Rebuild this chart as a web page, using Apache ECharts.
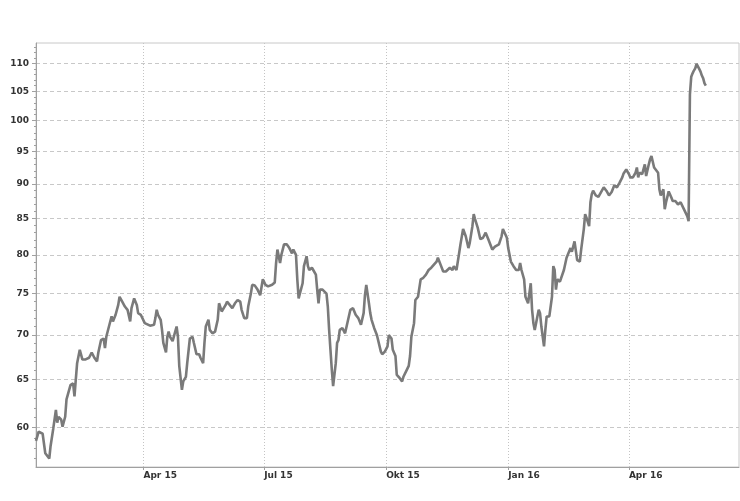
<!DOCTYPE html>
<html>
<head>
<meta charset="utf-8">
<script src="https://cdn.jsdelivr.net/npm/echarts@6/dist/echarts.min.js"></script>
<style>
  html, body { margin: 0; padding: 0; background: #ffffff; }
  #c { width: 740px; height: 501px; }
</style>
</head>
<body>
<div id="c"></div>
<script>
// ---- data ----
const dates = [
'2015-01-10','2015-01-12','2015-01-13','2015-01-15','2015-01-17','2015-01-20','2015-01-21','2015-01-23','2015-01-25','2015-01-26',
'2015-01-27','2015-01-29','2015-01-30','2015-02-01','2015-02-02','2015-02-05','2015-02-07','2015-02-08','2015-02-09','2015-02-10',
'2015-02-12','2015-02-14','2015-02-16','2015-02-19','2015-02-21','2015-02-23','2015-02-25','2015-02-26','2015-02-28','2015-03-02',
'2015-03-03','2015-03-04','2015-03-06','2015-03-08','2015-03-09','2015-03-11','2015-03-13','2015-03-14','2015-03-16','2015-03-18',
'2015-03-20','2015-03-22','2015-03-23','2015-03-25','2015-03-27','2015-03-28','2015-03-30','2015-04-02','2015-04-06','2015-04-09',
'2015-04-10','2015-04-11','2015-04-12','2015-04-14','2015-04-15','2015-04-16','2015-04-18','2015-04-19','2015-04-20','2015-04-21',
'2015-04-23','2015-04-24','2015-04-26','2015-04-27','2015-04-28','2015-04-30','2015-05-01','2015-05-03','2015-05-04','2015-05-06',
'2015-05-08','2015-05-09','2015-05-11','2015-05-13','2015-05-14','2015-05-16','2015-05-17','2015-05-18','2015-05-20','2015-05-21',
'2015-05-23','2015-05-25','2015-05-27','2015-05-28','2015-05-30','2015-05-31','2015-06-02','2015-06-03','2015-06-05','2015-06-07',
'2015-06-09','2015-06-11','2015-06-13','2015-06-14','2015-06-16','2015-06-18','2015-06-19','2015-06-21','2015-06-22','2015-06-24',
'2015-06-26','2015-06-28','2015-06-30','2015-07-02','2015-07-04','2015-07-07','2015-07-09','2015-07-10','2015-07-11','2015-07-13',
'2015-07-14','2015-07-15','2015-07-16','2015-07-18','2015-07-20','2015-07-22','2015-07-23','2015-07-25','2015-07-26','2015-07-27',
'2015-07-28','2015-07-30','2015-07-31','2015-08-02','2015-08-03','2015-08-04','2015-08-06','2015-08-07','2015-08-09','2015-08-10',
'2015-08-11','2015-08-12','2015-08-14','2015-08-17','2015-08-18','2015-08-19','2015-08-20','2015-08-21','2015-08-22','2015-08-24',
'2015-08-25','2015-08-26','2015-08-27','2015-08-29','2015-08-31','2015-09-02','2015-09-04','2015-09-06','2015-09-08','2015-09-10',
'2015-09-12','2015-09-14','2015-09-15','2015-09-16','2015-09-18','2015-09-19','2015-09-20','2015-09-22','2015-09-24','2015-09-25',
'2015-09-27','2015-09-28','2015-09-30','2015-10-02','2015-10-03','2015-10-05','2015-10-06','2015-10-08','2015-10-09','2015-10-11',
'2015-10-13','2015-10-14','2015-10-16','2015-10-18','2015-10-19','2015-10-20','2015-10-22','2015-10-23','2015-10-25','2015-10-26',
'2015-10-27','2015-10-29','2015-10-31','2015-11-02','2015-11-04','2015-11-06','2015-11-08','2015-11-09','2015-11-11','2015-11-13',
'2015-11-15','2015-11-16','2015-11-18','2015-11-20','2015-11-21','2015-11-23','2015-11-25','2015-11-26','2015-11-27','2015-11-28',
'2015-11-30','2015-12-02','2015-12-03','2015-12-05','2015-12-06','2015-12-07','2015-12-09','2015-12-11','2015-12-13','2015-12-15',
'2015-12-17','2015-12-20','2015-12-22','2015-12-25','2015-12-27','2015-12-28','2015-12-31','2016-01-01','2016-01-03','2016-01-05',
'2016-01-07','2016-01-09','2016-01-10','2016-01-11','2016-01-13','2016-01-14','2016-01-15','2016-01-16','2016-01-18','2016-01-19',
'2016-01-20','2016-01-21','2016-01-23','2016-01-24','2016-01-25','2016-01-26','2016-01-28','2016-01-29','2016-01-30','2016-02-01',
'2016-02-03','2016-02-04','2016-02-05','2016-02-06','2016-02-07','2016-02-09','2016-02-10','2016-02-12','2016-02-14','2016-02-15',
'2016-02-17','2016-02-18','2016-02-20','2016-02-21','2016-02-22','2016-02-24','2016-02-25','2016-02-27','2016-02-28','2016-02-29',
'2016-03-02','2016-03-03','2016-03-04','2016-03-05','2016-03-07','2016-03-09','2016-03-11','2016-03-13','2016-03-15','2016-03-17',
'2016-03-19','2016-03-21','2016-03-23','2016-03-25','2016-03-27','2016-03-28','2016-03-30','2016-04-01','2016-04-02','2016-04-04',
'2016-04-06','2016-04-07','2016-04-08','2016-04-09','2016-04-11','2016-04-13','2016-04-14','2016-04-16','2016-04-17','2016-04-18',
'2016-04-20','2016-04-21','2016-04-23','2016-04-24','2016-04-25','2016-04-27','2016-04-28','2016-04-29','2016-05-01','2016-05-03',
'2016-05-04','2016-05-06','2016-05-08','2016-05-10','2016-05-12','2016-05-13','2016-05-15','2016-05-16','2016-05-17','2016-05-18',
'2016-05-19','2016-05-20','2016-05-21','2016-05-22','2016-05-23','2016-05-24','2016-05-25','2016-05-26','2016-05-27','2016-05-28',
'2016-05-29'
];
const prices = [
58.7,59.6,59.7,59.4,57.5,57.0,58.2,59.9,61.8,60.5,
61.1,60.8,60.1,61.1,62.9,64.4,64.6,63.2,65.0,66.8,
68.3,67.2,67.2,67.4,68.0,67.4,67.0,68.0,69.4,69.6,
68.5,69.8,71.0,72.2,71.6,72.4,73.6,74.6,74.0,73.4,
73.0,71.6,73.2,74.4,73.6,72.6,72.4,71.4,71.1,71.2,
72.0,73.0,72.4,71.8,70.6,69.1,68.0,69.8,70.4,69.8,
69.3,69.3,71.0,69.8,66.5,63.9,64.8,65.3,66.8,69.6,
69.8,69.1,67.8,67.8,67.4,66.8,69.1,71.0,71.8,70.6,
70.2,70.4,71.8,73.8,72.8,72.6,73.6,74.0,73.6,73.2,
73.8,74.2,74.0,73.0,72.0,72.0,73.4,75.0,76.1,76.0,
75.5,74.8,76.8,76.1,75.9,76.1,76.4,78.9,80.7,78.9,
80.0,80.7,81.4,81.4,80.9,80.2,80.7,80.0,76.8,74.4,
74.4,76.3,78.5,79.8,78.5,78.0,78.3,78.0,77.4,75.5,
73.8,75.5,75.5,75.0,73.4,70.6,68.3,66.1,64.3,66.8,
69.1,69.4,70.6,70.8,70.2,71.6,73.0,73.2,72.4,72.0,
71.2,72.6,74.8,76.1,73.8,72.6,71.8,70.8,70.0,70.2,
68.1,67.8,68.1,68.7,70.0,69.6,68.3,67.6,65.5,65.2,
64.8,65.3,65.9,66.5,67.6,69.8,71.4,74.2,74.6,74.6,
76.8,77.0,77.4,78.0,78.3,78.7,79.1,79.6,78.7,77.8,
77.8,78.0,78.3,78.0,78.5,78.0,80.2,81.4,81.6,83.5,
82.5,80.9,81.6,83.9,85.6,84.9,83.7,82.1,82.3,83.0,
82.1,80.7,81.1,81.4,82.5,83.5,82.3,80.9,79.1,78.5,
78.0,78.0,78.9,78.0,76.8,74.6,74.2,73.8,76.3,73.0,
71.4,70.6,72.2,73.0,72.6,71.0,68.7,70.6,72.2,72.2,
74.6,78.5,78.0,75.5,76.8,76.5,76.3,78.0,79.6,79.8,
80.9,80.4,81.8,81.8,79.3,79.1,80.7,83.5,85.6,85.1,
83.9,87.3,88.5,89.0,88.3,88.1,88.8,89.5,89.0,88.3,
88.8,89.8,89.5,90.2,91.0,91.6,92.2,91.5,91.0,91.0,
91.7,92.5,91.0,91.7,91.5,93.0,91.2,93.0,93.8,94.3,
92.5,92.7,91.7,89.2,88.3,89.2,86.3,87.3,88.9,88.0,
87.5,87.5,87.0,87.3,86.5,86.1,85.3,84.6,104.5,107.6,
108.2,108.7,109.1,109.9,109.6,109.0,108.5,107.8,107.3,106.4,
106.0
];
const xTickDates = ['2015-04-01','2015-07-01','2015-10-01','2016-01-01','2016-04-01'];
const xTickLabels = ['Apr 15','Jul 15','Okt 15','Jan 16','Apr 16'];
const yTicks = [60,65,70,75,80,85,90,95,100,105,110];
const yMinorTicks = [57,58,59,60,61,62,63,64,65,66,67,68,69,70,71,72,73,74,75,76,77,78,79,80,81,82,83,84,85,86,87,88,89,90,91,92,93,94,95,96,97,98,99,100,101,102,103,104,105,106,107,108,109,110,111,112,113];
const xMin = '2015-01-10', xMax = '2016-06-23';
const yMin = 56.2, yMax = 113.8;

// ---- chart ----
const toTs = s => { const p = s.split('-').map(Number); return new Date(p[0], p[1] - 1, p[2]).getTime(); };
const xTickTs = xTickDates.map(toTs);
const font = { fontFamily: 'DejaVu Sans', fontSize: 9, fontWeight: 'bold', color: '#333333' };

const chart = echarts.init(document.getElementById('c'), null, { renderer: 'canvas' });
chart.setOption({
  animation: false,
  backgroundColor: '#ffffff',
  grid: { left: 36, right: 1, top: 43, bottom: 34, show: true, borderColor: '#c8c8c8', borderWidth: 1 },
  xAxis: {
    type: 'value',
    scale: true,
    min: toTs(xMin), max: toTs(xMax),
    axisLine: { show: true, lineStyle: { color: '#a0a0a0', width: 1 } },
    axisTick: { show: true, customValues: xTickTs, length: 3, lineStyle: { color: '#a0a0a0' } },
    axisLabel: Object.assign({
      customValues: xTickTs, align: 'left', margin: 4, hideOverlap: false,
      formatter: function (v) { const i = xTickTs.indexOf(v); return i >= 0 ? xTickLabels[i] : ''; }
    }, font),
    splitLine: { show: true, lineStyle: { color: '#c4c4c4', type: [1, 2], width: 1 } }
  },
  yAxis: [{
    type: 'log', logBase: 10,
    min: yMin, max: yMax,
    position: 'left',
    axisLine: { show: true, lineStyle: { color: '#a0a0a0', width: 1 } },
    axisTick: { show: true, customValues: yTicks, length: 4, lineStyle: { color: '#a0a0a0' } },
    axisLabel: Object.assign({ customValues: yTicks, margin: 7, formatter: v => String(Math.round(v)) }, font),
    splitLine: { show: true, lineStyle: { color: '#c8c8c8', type: [4, 3], width: 1 } },
    minorTick: { show: false }
  }, {
    type: 'log', logBase: 10,
    min: yMin, max: yMax,
    position: 'left', offset: 0,
    axisLine: { show: false },
    axisTick: { show: true, customValues: yMinorTicks, length: 2, lineStyle: { color: '#a0a0a0' } },
    axisLabel: { show: false },
    splitLine: { show: false }
  }],
  series: [{
    type: 'line',
    yAxisIndex: 0,
    data: dates.map((d, i) => [toTs(d), prices[i]]),
    showSymbol: false,
    symbol: 'none',
    smooth: false,
    lineStyle: { color: '#7a7a7a', width: 2.6 },
    emphasis: { disabled: true }
  }]
});
</script>
</body>
</html>
